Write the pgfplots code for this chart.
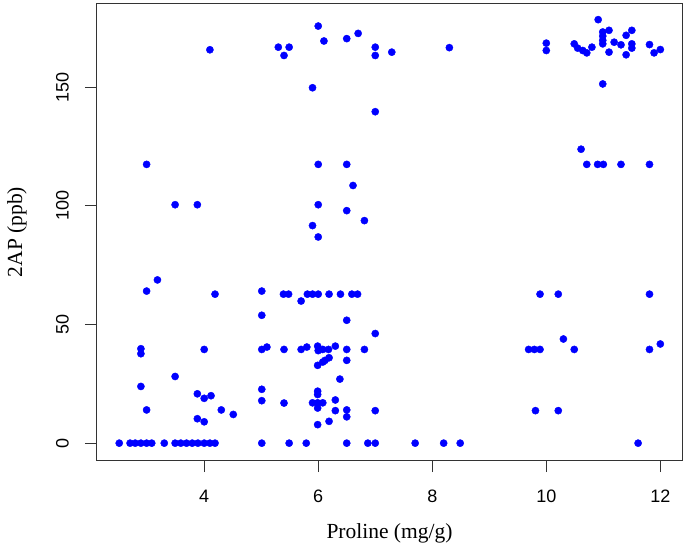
\documentclass[border=0pt]{standalone}
\usepackage{fontspec}
\setmainfont{Liberation Serif}
\setsansfont{Liberation Sans}
\usepackage{pgfplots}
\pgfplotsset{compat=1.18}
\definecolor{ptblue}{RGB}{0,0,255}
\begin{document}
\begin{tikzpicture}
\begin{axis}[
  name=ax,
  scale only axis,
  width=585bp, height=456bp,
  xmin=2.12, xmax=12.38, ymin=-7.1, ymax=185.1,
  axis line style={black!80, line width=1bp},
  xtick={4,6,8,10,12}, ytick={0,50,100,150},
  tick align=outside, tick pos=left,
  major tick length=12bp,
  tick style={black!80, line width=1bp},
  /pgf/number format/assume math mode=true,
  ticklabel style={font=\sffamily\fontsize{18bp}{20bp}\selectfont, inner sep=0pt},
  xticklabel style={anchor=north, yshift=-18bp},
  yticklabel style={xshift=-16bp, rotate=90, anchor=south},
  xlabel={Proline (mg/g)},
  ylabel={2AP (ppb)},
  xlabel style={font=\fontsize{21.5bp}{23bp}\selectfont, at={(axis description cs:0.5,-0.160)}, anchor=center, inner sep=0pt},
  ylabel style={font=\fontsize{21.5bp}{23bp}\selectfont, at={(axis description cs:-0.137,0.5)}, anchor=center, inner sep=0pt},
  clip=false,
]
\addplot[only marks, mark=*, mark size=3.6bp, mark options={fill=ptblue, draw=ptblue}] coordinates {
(4.10,165.8)
(5.30,166.9) (5.40,163.4) (5.49,166.9)
(6.00,175.8) (6.10,169.5) (6.50,170.5) (6.70,172.7)
(7.00,166.9) (7.00,163.4) (7.29,164.8)
(8.30,166.7)
(5.90,149.8) (7.00,139.7)
(10.00,168.6) (10.00,165.5)
(10.49,168.3) (10.55,166.5) (10.64,165.5) (10.71,164.5) (10.80,166.9)
(10.91,178.5)
(10.99,173.3) (10.99,171.6) (10.99,169.8) (10.99,168.3)
(11.10,174.0) (11.10,164.8)
(11.19,169.0) (11.31,167.9)
(11.40,171.9) (11.50,174.0) (11.50,168.3) (11.50,166.5) (11.40,163.7)
(11.81,168.0) (11.89,164.5) (12.00,165.9)
(10.99,151.4)
(10.61,123.9)
(10.71,117.5) (10.90,117.5) (11.00,117.5) (11.31,117.5) (11.81,117.5)
(2.99,117.5) (3.49,100.5) (3.88,100.5)
(6.00,117.5) (6.50,117.5) (6.61,108.6) (6.00,100.5) (6.50,98.0) (6.81,93.8) (5.90,91.7) (6.00,86.9)
(2.99,64.1) (3.18,68.8) (4.19,62.8) (5.01,64.1) (5.39,62.8) (5.48,62.8)
(5.70,59.9) (5.81,62.8) (5.90,62.8) (6.00,62.8) (6.19,62.8) (6.39,62.8) (6.59,62.8) (6.69,62.8)
(9.89,62.8) (10.21,62.8) (11.81,62.8)
(5.01,53.9) (6.50,51.8) (7.00,46.2)
(2.89,39.8) (2.89,37.7)
(4.00,39.5)
(5.01,39.5) (5.10,40.5) (5.40,39.5)
(5.70,39.5) (5.80,40.5) (5.99,40.9) (6.00,39.0) (6.08,39.5) (6.18,39.5) (6.30,40.9)
(6.50,39.5) (6.81,39.5)
(9.69,39.5) (9.79,39.5) (9.89,39.5) (10.30,43.9) (10.49,39.5) (11.81,39.5) (12.00,41.8)
(6.19,36.0) (6.12,34.9) (6.08,34.2) (5.99,32.8) (6.50,34.9)
(3.49,28.1) (6.38,27.0)
(2.89,23.9) (5.01,22.7)
(3.88,20.8) (4.00,18.9) (4.12,20.0)
(5.01,17.9) (5.40,16.9)
(5.99,21.9) (5.99,20.5)
(5.90,17.0) (5.99,17.0) (6.08,17.0) (5.99,14.8) (6.30,18.2) (6.30,13.7)
(6.50,14.0) (6.50,11.1) (7.00,13.7)
(5.99,7.8) (6.19,9.2)
(2.99,14.0) (4.30,14.0) (4.51,12.1)
(3.88,10.3) (4.00,9.0)
(9.81,13.7) (10.21,13.7)
(2.51,0) (2.70,0) (2.79,0) (2.89,0) (2.99,0) (3.08,0) (3.30,0) (3.49,0) (3.59,0) (3.69,0)
(3.79,0) (3.89,0) (4.00,0) (4.10,0) (4.19,0) (5.01,0) (5.49,0) (5.79,0) (6.50,0) (6.87,0)
(7.00,0) (7.70,0) (8.20,0) (8.49,0) (11.61,0)
};
\end{axis}
\pgfresetboundingbox
\path[use as bounding box] (ax.south west) ++(-97bp,-89bp) rectangle ++(687bp,549bp);
\end{tikzpicture}
\end{document}
